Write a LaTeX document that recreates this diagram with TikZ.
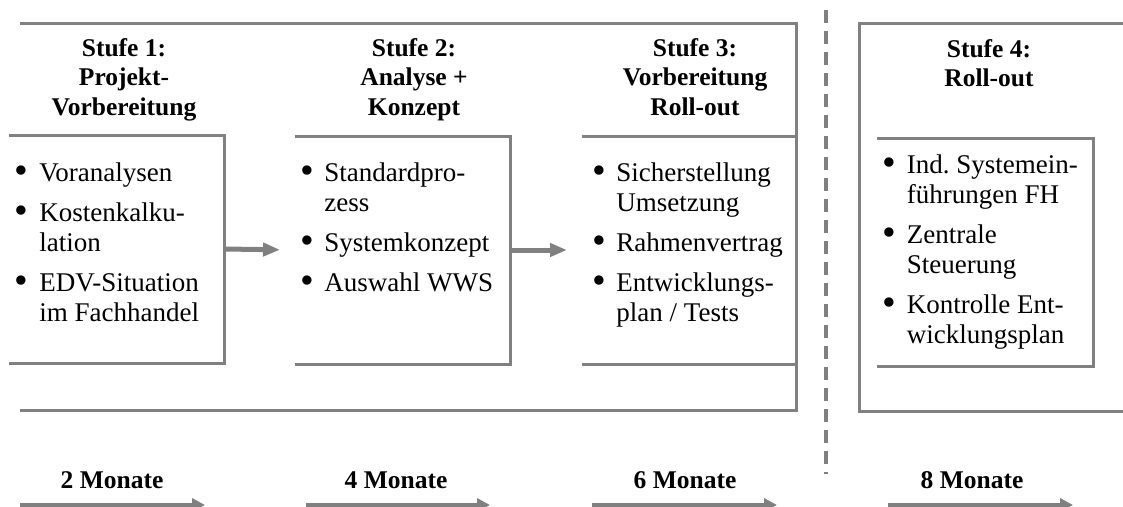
\documentclass[tikz,border=0pt]{standalone}
\usepackage{fontspec}
\setmainfont{Liberation Serif}
\usetikzlibrary{arrows.meta}
\definecolor{lg}{HTML}{808080}
\newcommand{\bul}{\raisebox{-2.5pt}{\scalebox{1.45}{\textbullet}}}
\frenchspacing
\begin{document}
\begin{tikzpicture}[x=1pt,y=-1pt,
  frame/.style={draw=lg, line width=3pt},
  box/.style={minimum width=#1, minimum height=228pt, inner sep=0pt, outer sep=0pt},
  flow/.style={draw=lg, line width=5pt, -{Triangle[length=17pt,width=13pt]}, shorten >=15pt},
  tarr/.style={draw=lg, line width=4.5pt, -{Triangle[length=13pt,width=13pt]}},
  body/.style={font=\fontsize{27}{30}\selectfont, inner sep=0pt, anchor=base west},
  head/.style={font=\bfseries\fontsize{25.5}{29.5}\selectfont, inner sep=0pt, anchor=base},
  month/.style={font=\bfseries\fontsize{25.5}{29.5}\selectfont, inner sep=0pt, anchor=base},
  sep/.style={draw=lg, line width=4pt, dash pattern=on 13pt off 8pt}
]
\useasboundingbox (0,0) rectangle (1123,506);

% outer frames
\coordinate (o1a) at (20,23);
\coordinate (o1b) at (796,23);
\coordinate (o1c) at (796,410);
\coordinate (o1d) at (20,410);
\draw[frame] (o1a) -- (o1b) -- (o1c) -- (o1d);
\coordinate (o4a) at (1135,23);
\coordinate (o4b) at (859,23);
\coordinate (o4c) at (859,411);
\coordinate (o4d) at (1135,411);
\draw[frame] (o4a) -- (o4b) -- (o4c) -- (o4d);

% separator
\coordinate (sa) at (826,10);
\coordinate (sb) at (826,474);
\draw[sep] (sa) -- (sb);

% stage boxes
\node[box=215pt] (b1) at (116.5,249) {};
\node[box=215pt] (b2) at (402.5,250) {};
\node[box=214pt] (b3) at (689,250) {};
\node[box=216pt] (b4) at (985,252) {};
\foreach \b in {b1,b2,b3,b4}
  \draw[frame] (\b.north west) -- (\b.north east) -- (\b.south east) -- (\b.south west);

\draw[flow] (b1.east) -- (b2.west);
\draw[flow] (b2.east) -- (b3.west);

% headings
\node[head] (h1) at (124,56) {\begin{tabular}[t]{@{}c@{}}Stufe 1:\\Projekt-\\Vorbereitung\end{tabular}};
\node[head] (h2) at (414,56) {\begin{tabular}[t]{@{}c@{}}Stufe 2:\\Analyse +\\Konzept\end{tabular}};
\node[head] (h3) at (695,56) {\begin{tabular}[t]{@{}c@{}}Stufe 3:\\Vorbereitung\\Roll-out\end{tabular}};
\node[head] (h4) at (989,57) {\begin{tabular}[t]{@{}c@{}}Stufe 4:\\Roll-out\end{tabular}};

% bullet lists
\node[body] (l1) at (14,181) {\begin{tabular}[t]{@{}l@{\hspace{11.5pt}}l@{}}
\bul & Voranalysen\\[10pt]
\bul & Kostenkalku-\\
 & lation\\[10pt]
\bul & EDV-Situation\\
 & im Fachhandel\end{tabular}};
\node[body] (l2) at (300,181) {\begin{tabular}[t]{@{}l@{\hspace{10.5pt}}l@{}}
\bul & Standardpro-\\
 & zess\\[10pt]
\bul & Systemkonzept\\[10pt]
\bul & Auswahl WWS\end{tabular}};
\node[body] (l3) at (592,181) {\begin{tabular}[t]{@{}l@{\hspace{10.5pt}}l@{}}
\bul & Sicherstellung\\
 & Umsetzung\\[10pt]
\bul & Rahmenvertrag\\[10pt]
\bul & Entwicklungs-\\
 & plan / Tests\end{tabular}};
\node[body] (l4) at (882,173) {\begin{tabular}[t]{@{}l@{\hspace{11pt}}l@{}}
\bul & Ind. Systemein-\\
 & führungen FH\\[10pt]
\bul & Zentrale\\
 & Steuerung\\[10pt]
\bul & Kontrolle Ent-\\
 & wicklungsplan\end{tabular}};

% time line
\node[month] (m1) at (112,488) {2 Monate};
\node[month] (m2) at (396,488) {4 Monate};
\node[month] (m3) at (685,488) {6 Monate};
\node[month] (m4) at (972,488) {8 Monate};
\coordinate (t1s) at (20,505);  \coordinate (t1e) at (205,505);
\coordinate (t2s) at (306,505); \coordinate (t2e) at (490,505);
\coordinate (t3s) at (592,505); \coordinate (t3e) at (777,505);
\coordinate (t4s) at (888,505); \coordinate (t4e) at (1073,505);
\draw[tarr] (t1s) -- (t1e);
\draw[tarr] (t2s) -- (t2e);
\draw[tarr] (t3s) -- (t3e);
\draw[tarr] (t4s) -- (t4e);
\end{tikzpicture}
\end{document}
